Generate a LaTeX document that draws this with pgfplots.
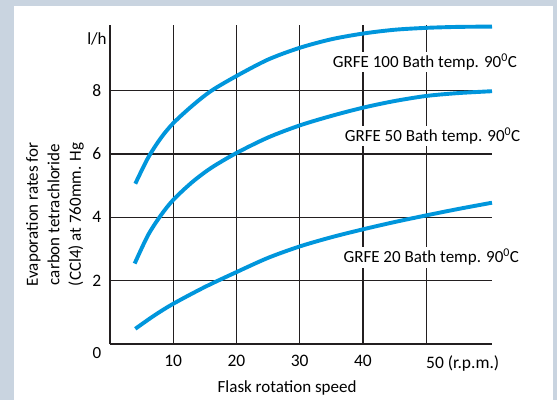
\documentclass[border=0pt]{standalone}
\usepackage{fontspec}
\setmainfont{Carlito}
\usepackage{pgfplots}
\pgfplotsset{compat=1.18}

\definecolor{framebg}{HTML}{C9D4E0}
\definecolor{curveblue}{HTML}{0096DC}
\definecolor{gridline}{HTML}{231F20}

\begin{document}
\fontsize{17}{21.5}\selectfont
\begin{tikzpicture}[x=1pt,y=1pt]
\fill[framebg] (0,0) rectangle (557,400);
\fill[white] (14,0) rectangle (553,394);
\begin{axis}[
    at={(110pt,56pt)}, anchor=south west,
    scale only axis,
    width=382pt, height=319pt,
    xmin=0, xmax=60.4,
    ymin=0, ymax=10.07,
    axis x line*=bottom,
    axis y line*=left,
    axis line style={gridline, line width=1.2pt},
    xtick={10,20,30,40,50},
    xticklabels={10,20,30,40,{\makebox[0pt][l]{50 (r.p.m.)}}},
    ytick={2,4,6,8},
    major tick length=0pt,
    grid=major,
    grid style={gridline, line width=1.2pt},
    tick label style={font=\fontsize{17.5}{20}\selectfont, inner sep=0pt},
    xticklabel style={yshift=-11pt},
    yticklabel style={xshift=-8.5pt},
    /pgf/number format/assume math mode=true,
    clip=false,
]
% GRFE 100
\addplot[curveblue, line width=3.9pt, smooth] coordinates {
    (4.0,5.06) (6,5.87) (8,6.49) (10,6.97) (13,7.52) (16,7.99)
    (20,8.46) (25,8.98) (30,9.35) (35,9.62) (40,9.80) (45,9.92)
    (50,9.98) (55,10.01) (60.4,10.02)
};
% GRFE 50
\addplot[curveblue, line width=3.9pt, smooth] coordinates {
    (3.9,2.54) (6,3.43) (8,4.05) (10,4.55) (13,5.11) (16,5.56)
    (20,6.03) (25,6.52) (30,6.90) (35,7.20) (40,7.46) (45,7.67)
    (50,7.83) (55,7.92) (60.4,7.98)
};
% GRFE 20
\addplot[curveblue, line width=3.9pt, smooth] coordinates {
    (4.0,0.48) (7,0.90) (10,1.27) (15,1.80) (20,2.27) (25,2.72)
    (30,3.08) (35,3.37) (40,3.62) (45,3.85) (50,4.06) (55,4.26)
    (60.4,4.46)
};
\node[fill=white, inner sep=2pt] at (axis cs:49.8,8.9) {GRFE 100 Bath temp. 90\textsuperscript{0}C};
\node[fill=white, inner sep=2pt] at (axis cs:51.0,6.57) {GRFE 50 Bath temp. 90\textsuperscript{0}C};
\node[fill=white, inner sep=2pt] at (axis cs:50.8,2.74) {GRFE 20 Bath temp. 90\textsuperscript{0}C};
\node at (axis cs:-2.06,-0.28) {0};
\node at (axis cs:-2.06,9.63) {l/h};
\node at (axis cs:28.0,-1.39) {Flask rotation speed};
\node[rotate=90, align=center] at (axis cs:-8.7,4.09)
    {Evaporation rates for\\carbon tetrachloride\\(CCl4) at 760mm. Hg};
\end{axis}
\pgfresetboundingbox
\path[use as bounding box] (0,0) rectangle (557,400);
\end{tikzpicture}
\end{document}
